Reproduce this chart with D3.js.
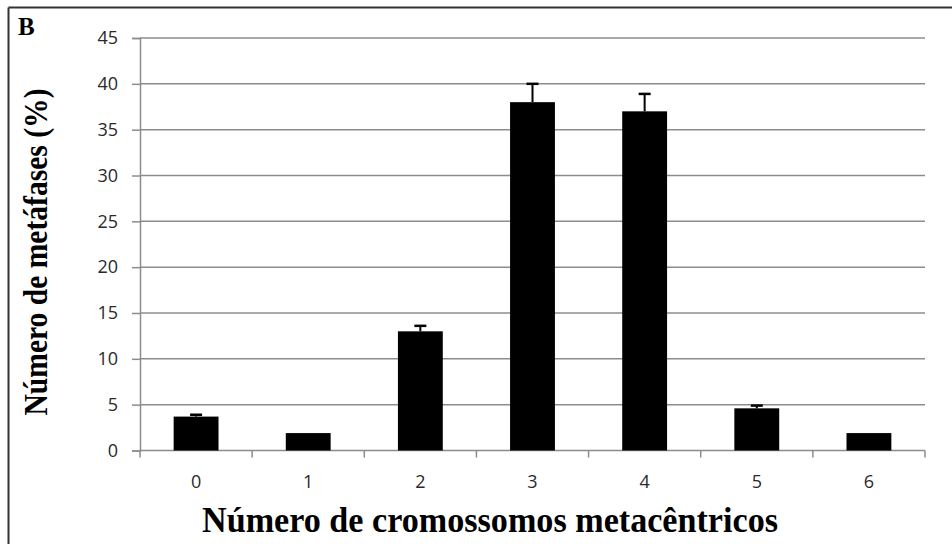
<!DOCTYPE html>
<html>
<head>
<meta charset="utf-8">
<script src="https://cdn.jsdelivr.net/npm/d3@7"></script>
<style>
  html, body { margin: 0; padding: 0; background: #fff; }
  svg { display: block; }
</style>
</head>
<body>
<svg id="chart" width="952" height="544"></svg>
<script>
// Number of metacentric chromosomes per metaphase
const categories = ["0", "1", "2", "3", "4", "5", "6"];
const percentages = [3.7, 1.9, 13.0, 38.0, 37.0, 4.6, 1.9];
const errors = [0.2, 0, 0.6, 2.0, 1.9, 0.3, 0];
const yTicks = [0, 5, 10, 15, 20, 25, 30, 35, 40, 45];

const svg = d3.select("#chart");
const W = 952, H = 544;
const plot = { left: 140, right: 925, top: 38, bottom: 450.5 };
const tickFont = "'Open Sans', sans-serif";
const titleFont = "'Liberation Serif', 'Times New Roman', serif";

// Frame (top and left edges of the panel border)
svg.append("line").attr("x1", 8.5).attr("x2", W).attr("y1", 7.5).attr("y2", 7.5)
  .attr("stroke", "#333").attr("stroke-width", 2);
svg.append("line").attr("x1", 8.5).attr("x2", 8.5).attr("y1", 7.5).attr("y2", H)
  .attr("stroke", "#333").attr("stroke-width", 2);

const x = d3.scaleBand().domain(categories)
  .range([plot.left, plot.right]).paddingInner(0.6).paddingOuter(0.3);
const xb = d3.scaleBand().domain(categories).range([plot.left, plot.right]);
const y = d3.scaleLinear().domain([0, 45]).range([plot.bottom, plot.top]);

// Horizontal gridlines
svg.append("g").selectAll("line").data(yTicks.filter(d => d > 0)).join("line")
  .attr("x1", plot.left).attr("x2", plot.right)
  .attr("y1", d => y(d)).attr("y2", d => y(d))
  .attr("stroke", "#8c8c8c").attr("stroke-width", 1.5);

// Y axis
const yAxis = svg.append("g").attr("transform", `translate(${plot.left},0)`)
  .call(d3.axisLeft(y).tickValues(yTicks).tickSize(8).tickPadding(14));
yAxis.attr("font-family", tickFont).attr("font-size", 18);
yAxis.select(".domain").attr("stroke", "#8c8c8c").attr("stroke-width", 1.5);
yAxis.selectAll(".tick line").attr("stroke", "#8c8c8c").attr("stroke-width", 1.5);
yAxis.selectAll(".tick text").attr("fill", "#2a2a2a");

// X axis: ticks on category boundaries
const xAxisG = svg.append("g").attr("transform", `translate(0,${plot.bottom})`);
xAxisG.append("line").attr("x1", plot.left).attr("x2", plot.right)
  .attr("stroke", "#8c8c8c").attr("stroke-width", 1.5);
const boundaries = categories.map(c => xb(c)).concat([xb(categories[categories.length - 1]) + xb.bandwidth()]);
xAxisG.selectAll("line.tick").data(boundaries).join("line").attr("class", "tick")
  .attr("x1", d => d).attr("x2", d => d).attr("y1", 0).attr("y2", 7)
  .attr("stroke", "#8c8c8c").attr("stroke-width", 1.5);
xAxisG.selectAll("text").data(categories).join("text")
  .attr("x", d => xb(d) + xb.bandwidth() / 2).attr("y", 37)
  .attr("text-anchor", "middle")
  .attr("font-family", tickFont).attr("font-size", 18)
  .attr("fill", "#2a2a2a").text(d => d);

// Bars
svg.append("g").selectAll("rect").data(categories).join("rect")
  .attr("x", d => x(d)).attr("width", x.bandwidth())
  .attr("y", (d, i) => y(percentages[i]))
  .attr("height", (d, i) => y(0) - y(percentages[i]))
  .attr("fill", "#000");

// Error bars (upper only)
const eb = svg.append("g").attr("stroke", "#000").attr("stroke-width", 2);
categories.forEach((c, i) => {
  if (errors[i] <= 0) return;
  const cx = x(c) + x.bandwidth() / 2;
  const top = y(percentages[i] + errors[i]);
  eb.append("line").attr("x1", cx).attr("x2", cx)
    .attr("y1", y(percentages[i])).attr("y2", top);
  eb.append("line").attr("x1", cx - 6).attr("x2", cx + 6)
    .attr("y1", top).attr("y2", top).attr("stroke-width", 2.5);
});

// Panel label
svg.append("text").attr("x", 18).attr("y", 35)
  .attr("font-family", titleFont)
  .attr("font-weight", "bold").attr("font-size", 25).text("B");

// Axis titles
svg.append("text").attr("x", 490).attr("y", 532).attr("text-anchor", "middle")
  .attr("font-family", titleFont)
  .attr("font-weight", "bold").attr("font-size", 36)
  .attr("textLength", 576).attr("lengthAdjust", "spacingAndGlyphs")
  .text("Número de cromossomos metacêntricos");

svg.append("text")
  .attr("transform", "translate(47,252) rotate(-90)")
  .attr("text-anchor", "middle")
  .attr("font-family", titleFont)
  .attr("font-weight", "bold").attr("font-size", 34)
  .attr("textLength", 327).attr("lengthAdjust", "spacingAndGlyphs")
  .text("Número de metáfases (%)");
</script>
</body>
</html>
